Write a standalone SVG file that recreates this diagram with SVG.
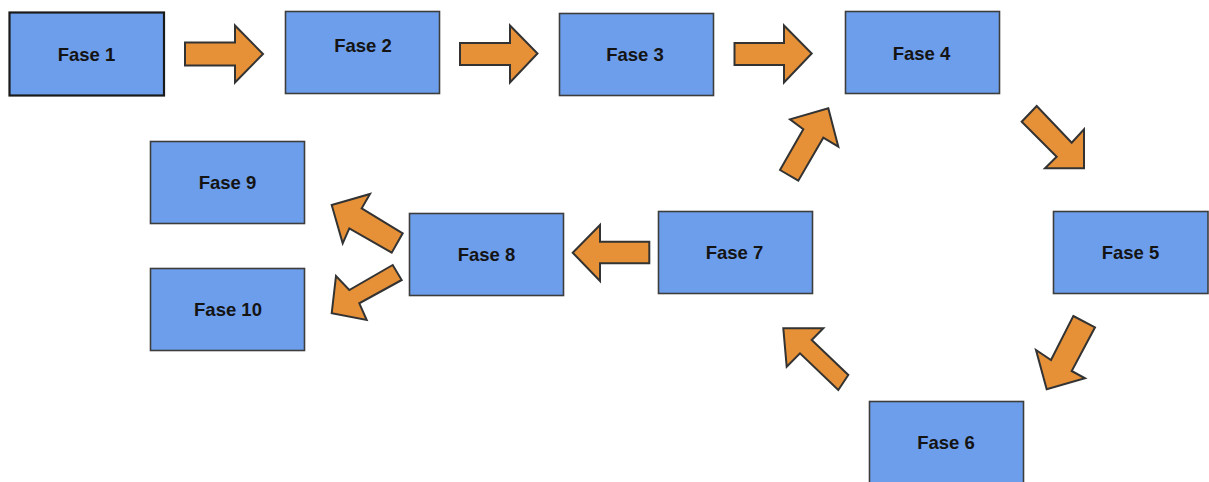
<svg xmlns="http://www.w3.org/2000/svg" width="1209" height="482" viewBox="0 0 1209 482">
  <style>
    .box { fill: #6d9eeb; stroke: #3d3d3d; stroke-width: 1.6; }
    .box.strong { stroke: #1a1a1a; stroke-width: 2.2; }
    .label { font-family: "Liberation Sans", Arial, sans-serif; font-weight: bold; font-size: 18.5px; fill: #141414; text-anchor: middle; }
    .arrow { fill: #e69138; stroke: #333333; stroke-width: 2; stroke-linejoin: miter; }
  </style>
  <rect width="1209" height="482" fill="#ffffff"/>

  <!-- phase boxes -->
  <g id="fase1"><rect class="box strong" x="9.5" y="12.5" width="154.5" height="83"/><text class="label" x="86.5" y="60.5">Fase 1</text></g>
  <g id="fase2"><rect class="box" x="285.5" y="11.5" width="154" height="82"/><text class="label" x="363" y="51.7">Fase 2</text></g>
  <g id="fase3"><rect class="box" x="559.5" y="13.5" width="154" height="82"/><text class="label" x="635" y="60.7">Fase 3</text></g>
  <g id="fase4"><rect class="box" x="845.5" y="11.5" width="154" height="82"/><text class="label" x="921.5" y="59.5">Fase 4</text></g>
  <g id="fase5"><rect class="box" x="1053.5" y="211.5" width="154.5" height="82"/><text class="label" x="1130.5" y="258.7">Fase 5</text></g>
  <g id="fase6"><rect class="box" x="869.5" y="401.5" width="154" height="84"/><text class="label" x="946" y="448.5">Fase 6</text></g>
  <g id="fase7"><rect class="box" x="658.5" y="211.5" width="154" height="82"/><text class="label" x="734.5" y="258.7">Fase 7</text></g>
  <g id="fase8"><rect class="box" x="409.5" y="213.5" width="154" height="82"/><text class="label" x="486.5" y="260.7">Fase 8</text></g>
  <g id="fase9"><rect class="box" x="150.5" y="141.5" width="154" height="82"/><text class="label" x="227.5" y="188.7">Fase 9</text></g>
  <g id="fase10"><rect class="box" x="150.5" y="268.5" width="154" height="82"/><text class="label" x="228" y="315.7">Fase 10</text></g>

  <!-- block arrows between phases -->
  <g id="connectors">
    <polygon class="arrow" points="185,42.5 235,42.5 235,25.5 263,54 235,82.5 235,65.5 185,65.5"/>
    <polygon class="arrow" points="460,43 510,43 510,25.5 537.5,53.5 510,82.5 510,65 460,65"/>
    <polygon class="arrow" points="734.5,43 784,43 784,25.5 811.7,53.5 784,82.5 784,65 734.5,65"/>
    <polygon class="arrow" points="1021.7,121.7 1036.7,106 1071.7,142.7 1084,129.3 1084,168.3 1045,168.3 1056.7,156.7"/>
    <polygon class="arrow" points="1073.3,316 1095,327.3 1071.7,371 1085,378.3 1046.7,389.3 1036,350 1051,360"/>
    <polygon class="arrow" points="783.3,328.3 823.3,328.3 811.7,340 848.3,375 838.3,390 800,353.3 786.7,366.7"/>
    <polygon class="arrow" points="780,170 803.3,129.3 790,119.3 828.3,108.3 838.3,146.7 823.3,137.7 798.3,180.7"/>
    <polygon class="arrow" points="649.3,241.7 600,241.7 600,225 572.7,252.7 600,281 600,263.3 649.3,263.3"/>
    <polygon class="arrow" points="331.7,205 370,194 361.7,208.3 402.7,233.3 391.7,252.7 349.3,228.3 342.7,243.3"/>
    <polygon class="arrow" points="331.7,313.3 336,276 349.3,290 392.7,265 401.7,280 359.3,303.3 366.7,320"/>
  </g>
</svg>
